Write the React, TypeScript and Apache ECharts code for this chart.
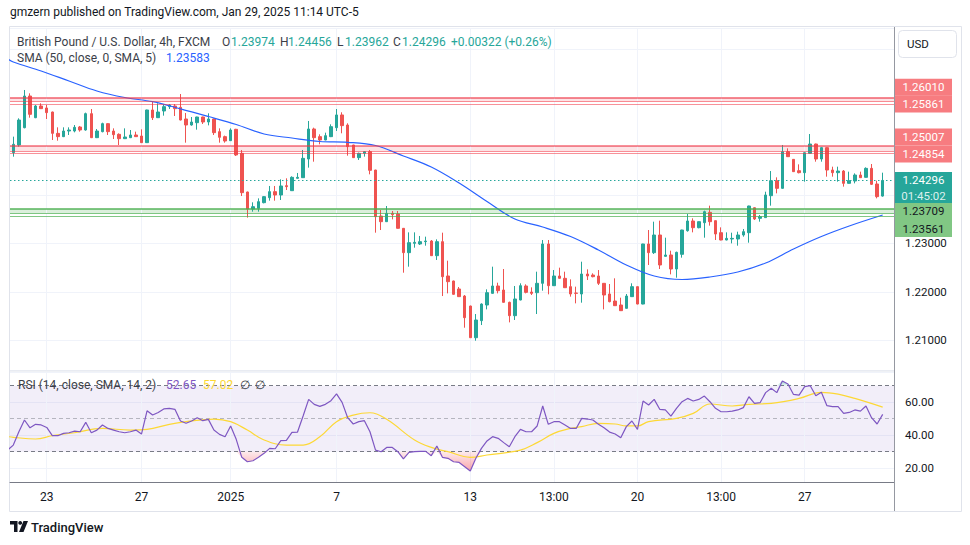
import { useEffect, useRef } from 'react';
import * as echarts from 'echarts';

// ---- candles (GBP/USD 4h) ----
const openP = [
  1.24869, 1.25027, 1.25384, 1.26037, 1.25590, 1.25831, 1.25790, 1.25707, 1.25267, 1.25199,
  1.25315, 1.25315, 1.25398, 1.25336, 1.25673, 1.25178, 1.25302, 1.25467, 1.25315, 1.25247,
  1.25157, 1.25178, 1.25233, 1.25212, 1.25075, 1.25749, 1.25590, 1.25728, 1.25817, 1.25831,
  1.25804, 1.25563, 1.25439, 1.25487, 1.25604, 1.25501, 1.25563, 1.25302, 1.25199, 1.25116,
  1.25350, 1.24855, 1.24058, 1.23707, 1.23721, 1.23838, 1.23941, 1.24065, 1.23996, 1.24188,
  1.24085, 1.24340, 1.24353, 1.24738, 1.25357, 1.25199, 1.25130, 1.25199, 1.25384, 1.25646,
  1.25439, 1.25027, 1.24766, 1.24855, 1.24890, 1.24511, 1.23563, 1.23446, 1.23618, 1.23604,
  1.23309, 1.22807, 1.22999, 1.22986, 1.23034, 1.23047, 1.22745, 1.23034, 1.22326, 1.22223,
  1.22058, 1.21913, 1.21707, 1.21054, 1.21405, 1.21728, 1.21968, 1.22120, 1.22037, 1.21783,
  1.21508, 1.21831, 1.22120, 1.21996, 1.21982, 1.22175, 1.22986, 1.22126, 1.22326, 1.22278,
  1.22106, 1.21975, 1.21955, 1.22367, 1.22346, 1.22326, 1.22175, 1.21955, 1.21810, 1.21728,
  1.21659, 1.21900, 1.22106, 1.21748, 1.22986, 1.22807, 1.23171, 1.22731, 1.22759, 1.22470,
  1.22773, 1.23260, 1.23460, 1.23322, 1.23425, 1.23638, 1.23467, 1.23219, 1.23068, 1.23089,
  1.23089, 1.23171, 1.23219, 1.23734, 1.23515, 1.23529, 1.23982, 1.24291, 1.24133, 1.24889,
  1.24731, 1.24497, 1.24456, 1.24855, 1.25047, 1.24738, 1.24972, 1.24511, 1.24456, 1.24490,
  1.24236, 1.24284, 1.24408, 1.24360, 1.24545, 1.24223, 1.23974,
];
const highP = [
  1.25199, 1.25577, 1.26161, 1.26092, 1.25852, 1.25886, 1.25852, 1.25714, 1.25391, 1.25391,
  1.25391, 1.25439, 1.25419, 1.25694, 1.25769, 1.25357, 1.25487, 1.25475, 1.25370, 1.25267,
  1.25370, 1.25336, 1.25302, 1.25350, 1.25755, 1.25920, 1.25886, 1.25865, 1.25872, 1.25872,
  1.26078, 1.25687, 1.25604, 1.25610, 1.25610, 1.25680, 1.25570, 1.25370, 1.25220, 1.25370,
  1.25360, 1.24924, 1.24065, 1.23845, 1.23927, 1.23975, 1.24182, 1.24182, 1.24319, 1.24340,
  1.24381, 1.24450, 1.24924, 1.25522, 1.25384, 1.25247, 1.25281, 1.25453, 1.25769, 1.25701,
  1.25474, 1.25030, 1.24869, 1.24903, 1.24924, 1.24515, 1.23687, 1.23769, 1.23666, 1.23666,
  1.23315, 1.23226, 1.23226, 1.23151, 1.23137, 1.23068, 1.23082, 1.23219, 1.22642, 1.22230,
  1.22099, 1.21934, 1.21715, 1.21542, 1.21762, 1.22051, 1.22518, 1.22188, 1.22470, 1.21797,
  1.22120, 1.22175, 1.22154, 1.22092, 1.22415, 1.23068, 1.23068, 1.22449, 1.22498, 1.22415,
  1.22257, 1.22106, 1.22621, 1.22463, 1.22381, 1.22449, 1.22180, 1.22161, 1.22278, 1.21879,
  1.21955, 1.22175, 1.22110, 1.22990, 1.23274, 1.23446, 1.23467, 1.23116, 1.22848, 1.22828,
  1.23280, 1.23604, 1.23515, 1.23450, 1.23673, 1.23776, 1.23470, 1.23329, 1.23226, 1.23219,
  1.23240, 1.23295, 1.23775, 1.23740, 1.23583, 1.24064, 1.24490, 1.24360, 1.25027, 1.24958,
  1.24735, 1.24628, 1.24875, 1.25253, 1.25055, 1.24980, 1.24980, 1.24580, 1.24580, 1.24511,
  1.24477, 1.24442, 1.24477, 1.24566, 1.24635, 1.24291, 1.24456,
];
const lowP = [
  1.24786, 1.24993, 1.25370, 1.25590, 1.25580, 1.25770, 1.25563, 1.25130, 1.25116, 1.25190,
  1.25233, 1.25288, 1.25302, 1.25322, 1.25170, 1.25170, 1.25288, 1.25233, 1.25150, 1.25027,
  1.25150, 1.25170, 1.25192, 1.25068, 1.25068, 1.25542, 1.25583, 1.25632, 1.25769, 1.25625,
  1.25535, 1.25075, 1.25425, 1.25343, 1.25460, 1.25432, 1.25233, 1.25075, 1.25075, 1.25110,
  1.24800, 1.23975, 1.23529, 1.23652, 1.23652, 1.23824, 1.23879, 1.23879, 1.23893, 1.24099,
  1.24080, 1.24335, 1.24350, 1.24560, 1.24683, 1.25041, 1.25125, 1.25190, 1.25316, 1.25268,
  1.24807, 1.24760, 1.24718, 1.24787, 1.24422, 1.23219, 1.23274, 1.23440, 1.23494, 1.23305,
  1.22394, 1.22518, 1.22910, 1.22965, 1.22951, 1.22740, 1.22656, 1.21913, 1.21968, 1.21940,
  1.21895, 1.21260, 1.21050, 1.20992, 1.21315, 1.21638, 1.21962, 1.21968, 1.21778, 1.21370,
  1.21419, 1.21825, 1.21968, 1.21934, 1.21542, 1.22023, 1.21948, 1.22120, 1.22272, 1.22080,
  1.21900, 1.21762, 1.21776, 1.22243, 1.22298, 1.22140, 1.21638, 1.21783, 1.21710, 1.21605,
  1.21655, 1.21895, 1.21742, 1.21742, 1.22553, 1.22780, 1.22470, 1.22724, 1.22360, 1.22291,
  1.22704, 1.23240, 1.23226, 1.23309, 1.23116, 1.23364, 1.23068, 1.23062, 1.23062, 1.22999,
  1.22951, 1.23137, 1.23013, 1.23480, 1.23446, 1.23522, 1.23776, 1.24030, 1.24128, 1.24780,
  1.24470, 1.24442, 1.24271, 1.24850, 1.24683, 1.24683, 1.24374, 1.24374, 1.24271, 1.24168,
  1.24230, 1.24236, 1.24350, 1.24355, 1.24202, 1.23927, 1.23962,
];
const closeP = [
  1.25041, 1.25542, 1.26037, 1.25659, 1.25831, 1.25776, 1.25694, 1.25267, 1.25199, 1.25315,
  1.25336, 1.25391, 1.25336, 1.25673, 1.25178, 1.25315, 1.25467, 1.25302, 1.25240, 1.25157,
  1.25192, 1.25233, 1.25199, 1.25075, 1.25749, 1.25590, 1.25707, 1.25817, 1.25852, 1.25776,
  1.25542, 1.25439, 1.25501, 1.25604, 1.25501, 1.25563, 1.25281, 1.25185, 1.25109, 1.25336,
  1.24821, 1.24044, 1.23707, 1.23755, 1.23859, 1.23962, 1.24065, 1.23996, 1.24182, 1.24168,
  1.24360, 1.24360, 1.24752, 1.25357, 1.25178, 1.25130, 1.25219, 1.25405, 1.25646, 1.25426,
  1.24993, 1.24766, 1.24855, 1.24890, 1.24505, 1.23549, 1.23446, 1.23618, 1.23591, 1.23309,
  1.22807, 1.23013, 1.23020, 1.23034, 1.23047, 1.22745, 1.23034, 1.22312, 1.22209, 1.21948,
  1.21900, 1.21467, 1.21054, 1.21419, 1.21748, 1.21982, 1.22120, 1.22023, 1.21783, 1.21508,
  1.21852, 1.22126, 1.21989, 1.21968, 1.22175, 1.22986, 1.22126, 1.22326, 1.22278, 1.22085,
  1.21955, 1.21968, 1.22367, 1.22326, 1.22312, 1.22175, 1.21934, 1.21797, 1.21714, 1.21611,
  1.21913, 1.22106, 1.21748, 1.22986, 1.22807, 1.23171, 1.22553, 1.22759, 1.22470, 1.22814,
  1.23274, 1.23460, 1.23322, 1.23446, 1.23652, 1.23446, 1.23192, 1.23068, 1.23102, 1.23102,
  1.23171, 1.23240, 1.23769, 1.23501, 1.23549, 1.23996, 1.24291, 1.24133, 1.24889, 1.24786,
  1.24477, 1.24456, 1.24868, 1.25047, 1.24738, 1.24972, 1.24511, 1.24456, 1.24490, 1.24236,
  1.24291, 1.24408, 1.24353, 1.24545, 1.24216, 1.23962, 1.24296,
];

const smaIdx = [-1, 0, 5, 10, 15, 20, 25, 30, 35, 40, 45, 50, 55, 60, 65, 70, 75, 80, 85, 90, 95, 100, 105, 110, 115, 120, 125, 130, 135, 140, 145, 150, 156];
const smaVal = [1.26800, 1.26738, 1.26553, 1.26346, 1.26140, 1.26006, 1.25920, 1.25773, 1.25614, 1.25449, 1.25254, 1.25171, 1.25099, 1.25082, 1.25016, 1.24800, 1.24573, 1.24243, 1.23862, 1.23501, 1.23336, 1.23140, 1.22862, 1.22553, 1.22326, 1.22254, 1.22305, 1.22408, 1.22594, 1.22882, 1.23140, 1.23357, 1.23583];

// ---- RSI(14), first value belongs to bar -1 (just off the left edge) ----
const rsiVal = [
  31.0,
  34.0, 42.1, 49.2, 44.5, 46.6, 46.2, 44.7, 39.7, 39.7, 41.1,
  41.5, 42.5, 42.1, 47.8, 41.5, 43.1, 46.2, 44.1, 43.1, 42.1,
  41.5, 42.1, 43.1, 40.7, 54.8, 52.2, 53.8, 55.9, 56.3, 55.7,
  48.6, 47.2, 48.6, 50.6, 48.8, 49.6, 43.1, 40.5, 39.1, 45.6,
  37.5, 26.6, 23.9, 24.5, 26.6, 29.0, 32.0, 31.8, 36.7, 36.9,
  41.7, 41.9, 51.6, 61.7, 58.7, 57.5, 58.7, 60.9, 65.0, 59.9,
  50.6, 46.8, 48.2, 48.8, 42.1, 31.0, 30.0, 32.6, 32.6, 30.0,
  25.6, 29.6, 30.0, 30.2, 30.2, 27.6, 33.4, 26.6, 26.0, 23.9,
  23.5, 20.9, 18.3, 26.0, 32.0, 36.5, 39.1, 38.1, 35.5, 33.0,
  39.1, 43.5, 42.1, 42.1, 45.6, 57.7, 46.6, 48.2, 48.2, 46.2,
  44.1, 44.1, 50.2, 49.8, 49.2, 46.6, 44.5, 41.9, 40.7, 38.5,
  45.2, 48.6, 43.5, 60.7, 58.3, 61.7, 55.7, 55.3, 51.6, 56.3,
  60.3, 62.3, 60.7, 61.7, 63.7, 60.3, 56.3, 54.2, 54.2, 54.6,
  55.3, 56.7, 63.3, 59.3, 59.7, 65.8, 68.4, 65.8, 72.8, 71.0,
  64.7, 64.3, 69.4, 70.0, 63.9, 66.0, 57.9, 57.3, 57.3, 53.2,
  53.8, 55.3, 54.6, 57.7, 50.6, 46.8, 52.65,
];
// ---- RSI-based SMA(14) read at sampled bars ----
const rsiMaIdx = [-1, 0, 4, 7, 11, 16, 21, 24, 28, 31, 36, 39, 42, 45, 49, 52, 55, 58, 61, 64, 67, 72, 75, 78, 82, 85, 91, 94, 97, 100, 102, 105, 108, 110, 112, 114, 119, 122, 125, 129, 132, 136, 141, 145, 148, 151, 156];
const rsiMaVal = [39.2, 38.7, 37.7, 39.7, 41.5, 44.1, 43.1, 43.5, 46.6, 48.2, 49.8, 48.2, 43.1, 37.1, 34.0, 34.0, 39.0, 48.2, 52.2, 53.6, 49.6, 37.1, 32.6, 30.0, 26.6, 28.0, 31.0, 35.5, 41.1, 44.1, 45.2, 47.2, 46.8, 45.6, 45.6, 48.2, 50.2, 53.2, 58.9, 57.7, 58.7, 59.3, 62.3, 66.0, 64.9, 62.3, 57.02];

// ---- time axis ----
const tickIdx = [6, 23, 39, 58, 82, 97, 112, 127, 142];
const tickText = ['23', '27', '2025', '7', '13', '13:00', '20', '13:00', '27'];

// ---- drawn zones / levels ----
const redZones = [
  [1.26010, 1.25924, 1.25861],
  [1.25007, 1.24897, 1.24854],
];
const greenZone = [1.23709, 1.23619, 1.23561];
const lastClose = 1.24296;
const changeText = '+0.00322 (+0.26%)';
const smaLast = 1.23583;
const rsiLast = 52.65;
const rsiMaLast = 57.02;
const countdown = '01:45:02';

const UP = '#26A69A';
const DOWN = '#EF5350';
const FONT = 'Roboto, "Noto Sans", Arial, sans-serif';

export default function App() {
  const ref = useRef<HTMLDivElement>(null);

  useEffect(() => {
    const el = ref.current!;
    const chart = echarts.init(el, undefined, { renderer: 'svg' });
    const xMin = -0.592;
    const xMax = 158.03;

    const rsiPts = rsiVal.map((v, k) => [k - 1, v]);

    const fillSeries = (level: number, below: boolean, stops: any[]) => ({
      type: 'custom', xAxisIndex: 1, yAxisIndex: 1, silent: true, z: 2, clip: true,
      data: [[0, level]],
      renderItem: (_p: any, api: any) => {
        const edge = rsiPts.map(([x, v]) => api.coord([x, below ? Math.min(v, level) : Math.max(v, level)]));
        const base = rsiPts.slice().reverse().map(([x]) => api.coord([x, level]));
        return {
          type: 'polygon',
          shape: { points: [...edge, ...base] },
          style: { fill: new echarts.graphic.LinearGradient(0, 0, 0, 1, stops), stroke: 'none' },
        };
      },
    });

    const redLine = 'rgba(242,54,69,0.55)';
    const greenLine = 'rgba(76,175,80,0.7)';

    const option: any = {
      animation: false,
      backgroundColor: '#ffffff',
      textStyle: { fontFamily: FONT },
      grid: [
        { left: 10, top: 28, width: 884, height: 342, outerBoundsMode: 'none', containLabel: false },
        { left: 10, top: 372, width: 884, height: 110, outerBoundsMode: 'none', containLabel: false },
      ],
      xAxis: [
        { type: 'value', gridIndex: 0, min: xMin, max: xMax, show: false, splitLine: { show: false } },
        {
          type: 'value', gridIndex: 1, min: xMin, max: xMax,
          axisLine: { show: true, lineStyle: { color: '#787B86', width: 1 } },
          axisTick: { show: false },
          splitLine: { show: false },
          axisLabel: {
            customValues: tickIdx,
            margin: 9,
            color: '#131722',
            fontSize: 12,
            fontFamily: FONT,
            formatter: (v: number) => {
              const k = tickIdx.indexOf(Math.round(v));
              return k >= 0 && Math.abs(v - Math.round(v)) < 1e-6 ? tickText[k] : '';
            },
          },
        },
      ],
      yAxis: [
        {
          type: 'value', gridIndex: 0, position: 'right', min: 1.20388, max: 1.27439, splitNumber: 7,
          axisLine: { show: false }, axisTick: { show: false },
          splitLine: { show: true, lineStyle: { color: '#F0F3FA', width: 1 } },
          axisLabel: {
            margin: 11, color: '#131722', fontSize: 11.5, fontFamily: FONT,
            showMinLabel: false, showMaxLabel: false,
            formatter: (v: number) => {
              const c = Math.round(v * 100);
              return Math.abs(v * 100 - c) < 1e-6 && v < 1.235 ? v.toFixed(5) : '';
            },
          },
        },
        {
          type: 'value', gridIndex: 1, position: 'right', min: 11.64, max: 78.3, splitNumber: 3,
          axisLine: { show: false }, axisTick: { show: false },
          splitLine: { show: true, lineStyle: { color: '#F0F3FA', width: 1 } },
          axisLabel: {
            margin: 11, color: '#131722', fontSize: 11.5, fontFamily: FONT,
            showMinLabel: false, showMaxLabel: false,
            formatter: (v: number) => {
              const r = Math.round(v);
              return Math.abs(v - r) < 1e-6 && r % 20 === 0 ? v.toFixed(2) : '';
            },
          },
        },
      ],
      series: [
        // vertical grid lines, main pane
        {
          type: 'line', xAxisIndex: 0, yAxisIndex: 0, data: [], silent: true,
          markLine: {
            silent: true, z: 1, precision: 5, symbol: ['none', 'none'], label: { show: false },
            lineStyle: { color: '#F0F3FA', width: 1, type: 'solid' },
            data: tickIdx.map((i) => ({ xAxis: i })),
          },
        },
        // zones
        {
          type: 'line', xAxisIndex: 0, yAxisIndex: 0, data: [], silent: true,
          markArea: {
            silent: true, z: 1,
            data: [
              ...redZones.map((z) => [
                { yAxis: z[0], itemStyle: { color: 'rgba(242,54,69,0.14)' } },
                { yAxis: z[1] },
              ]),
              [
                { yAxis: greenZone[0], itemStyle: { color: 'rgba(76,175,80,0.2)' } },
                { yAxis: greenZone[1] },
              ],
            ],
          },
          markLine: {
            silent: true, z: 5, precision: 5, symbol: ['none', 'none'], label: { show: false },
            data: [
              ...redZones.flatMap((z) => [
                { yAxis: z[0], lineStyle: { color: redLine, width: 2, type: 'solid' } },
                { yAxis: z[1], lineStyle: { color: redLine, width: 1, type: 'solid' } },
                { yAxis: z[2], lineStyle: { color: redLine, width: 1, type: 'solid' } },
              ]),
              { yAxis: greenZone[0], lineStyle: { color: greenLine, width: 2, type: 'solid' } },
              { yAxis: greenZone[1], lineStyle: { color: greenLine, width: 1, type: 'solid' } },
              { yAxis: greenZone[2], lineStyle: { color: greenLine, width: 1, type: 'solid' } },
              { yAxis: lastClose, lineStyle: { color: UP, width: 1, type: [1.5, 2.5] } },
            ],
          },
        },
        // candles
        {
          type: 'candlestick', xAxisIndex: 0, yAxisIndex: 0, z: 3,
          data: openP.map((o, i) => [i, o, closeP[i], lowP[i], highP[i]]),
          barWidth: 3,
          itemStyle: { color: UP, color0: DOWN, borderColor: UP, borderColor0: DOWN, borderWidth: 1 },
          silent: true,
        },
        // SMA 50
        {
          type: 'line', xAxisIndex: 0, yAxisIndex: 0, z: 4, silent: true,
          data: smaIdx.map((x, k) => [x, smaVal[k]]),
          smooth: 0.35, symbol: 'none',
          lineStyle: { color: '#2962FF', width: 1.2 },
        },
        // RSI pane: vertical grid, band, guides
        {
          type: 'line', xAxisIndex: 1, yAxisIndex: 1, data: [], silent: true,
          markArea: {
            silent: true, z: 0,
            data: [[{ yAxis: 70, itemStyle: { color: 'rgba(126,87,194,0.1)' } }, { yAxis: 30 }]],
          },
          markLine: {
            silent: true, z: 1, precision: 3, symbol: ['none', 'none'], label: { show: false },
            data: [
              ...tickIdx.map((i) => ({ xAxis: i, lineStyle: { color: '#F0F3FA', width: 1, type: 'solid' } })),
              { yAxis: 70, lineStyle: { color: '#787B86', width: 1, type: [4, 3] } },
              { yAxis: 50, lineStyle: { color: 'rgba(120,123,134,0.5)', width: 1, type: [4, 3] } },
              { yAxis: 30, lineStyle: { color: '#787B86', width: 1, type: [4, 3] } },
            ],
          },
        },
        // oversold / overbought fills
        fillSeries(30, true, [
          { offset: 0, color: 'rgba(242,54,69,0.1)' },
          { offset: 1, color: 'rgba(242,54,69,0.45)' },
        ]),
        fillSeries(70, false, [
          { offset: 0, color: 'rgba(8,153,129,0.4)' },
          { offset: 1, color: 'rgba(8,153,129,0.08)' },
        ]),
        // RSI MA
        {
          type: 'line', xAxisIndex: 1, yAxisIndex: 1, silent: true, symbol: 'none', z: 3,
          data: rsiMaIdx.map((x, k) => [x, rsiMaVal[k]]), smooth: 0.4,
          lineStyle: { color: '#FDD835', width: 1.2 },
        },
        // RSI
        {
          type: 'line', xAxisIndex: 1, yAxisIndex: 1, silent: true, symbol: 'none', z: 4,
          data: rsiPts, lineStyle: { color: '#7E57C2', width: 1.2 },
        },
      ],
    };

    chart.setOption(option);

    const py = (v: number) => chart.convertToPixel({ yAxisIndex: 0 }, v) as unknown as number;
    const f = (size: number, weight = 'normal') => `${weight} ${size}px ${FONT}`;
    const txt = (x: number, y: number, text: string, fill: string, size = 12, align = 'left', weight = 'normal') => ({
      type: 'text', x, y, silent: true, z: 60,
      style: { text, fill, font: f(size, weight), textAlign: align, textVerticalAlign: 'middle' },
    });

    const boxes = [
      { p: redZones[0][0], shift: -10, bg: '#F77C80', fg: '#ffffff', t: redZones[0][0].toFixed(5) },
      { p: redZones[0][2], shift: -0.5, bg: '#F77C80', fg: '#ffffff', t: redZones[0][2].toFixed(5) },
      { p: redZones[1][0], shift: -9, bg: '#F77C80', fg: '#ffffff', t: redZones[1][0].toFixed(5) },
      { p: redZones[1][2], shift: 0.5, bg: '#F77C80', fg: '#ffffff', t: redZones[1][2].toFixed(5) },
      { p: lastClose, shift: 0, bg: UP, fg: '#ffffff', t: lastClose.toFixed(5) },
      { p: lastClose, shift: 16, bg: UP, fg: 'rgba(255,255,255,0.85)', t: countdown },
      { p: greenZone[0], shift: 2.5, bg: '#81C784', fg: '#131722', t: greenZone[0].toFixed(5) },
      { p: greenZone[2], shift: 12.5, bg: '#81C784', fg: '#131722', t: greenZone[2].toFixed(5) },
    ];
    const boxEls: any[] = [];
    boxes.forEach((b) => {
      const cy = py(b.p) + b.shift;
      boxEls.push({
        type: 'rect', silent: true, z: 55,
        shape: { x: 895, y: cy - 8.5, width: 57, height: 17 },
        style: { fill: b.bg },
      });
      boxEls.push(txt(923.5, cy, b.t, b.fg, 11.5, 'center'));
    });

    const last = openP.length - 1;
    const legendGray = '#3b3e48';
    const graphics: any[] = [
      { type: 'rect', silent: true, z: 0, shape: { x: 9.5, y: 26.5, width: 952, height: 485 }, style: { fill: 'none', stroke: '#E0E3EB', lineWidth: 1 } },
      { type: 'line', silent: true, z: 50, shape: { x1: 10, y1: 371, x2: 894, y2: 371 }, style: { stroke: '#E0E3EB', lineWidth: 1 } },
      { type: 'line', silent: true, z: 50, shape: { x1: 894.5, y1: 27, x2: 894.5, y2: 511 }, style: { stroke: '#9598A1', lineWidth: 1 } },
      txt(10, 12, 'gmzern published on TradingView.com, Jan 29, 2025 11:14 UTC-5', '#131722', 12),
      txt(17, 42, 'British Pound / U.S. Dollar, 4h, FXCM', legendGray),
      txt(222, 42, 'O', legendGray), txt(231, 42, openP[last].toFixed(5), UP),
      txt(280, 42, 'H', legendGray), txt(288, 42, highP[last].toFixed(5), UP),
      txt(337, 42, 'L', legendGray), txt(345, 42, lowP[last].toFixed(5), UP),
      txt(393, 42, 'C', legendGray), txt(402, 42, closeP[last].toFixed(5), UP),
      txt(451, 42, changeText, UP),
      txt(17, 58, 'SMA (50, close, 0, SMA, 5)', legendGray),
      txt(166, 58, smaLast.toFixed(5), '#2962FF'),
      txt(18, 385, 'RSI (14, close, SMA, 14, 2)', legendGray),
      txt(166, 385, rsiLast.toFixed(2), '#7E57C2'),
      txt(203, 385, rsiMaLast.toFixed(2), '#FDD835'),
      txt(240, 385, '∅', legendGray),
      txt(255, 385, '∅', legendGray),
      { type: 'rect', silent: true, z: 55, shape: { x: 898.5, y: 30.5, width: 58, height: 27, r: 4 }, style: { fill: '#ffffff', stroke: '#E0E3EB', lineWidth: 1 } },
      txt(907, 44, 'USD', '#131722', 11.5),
      { type: 'polygon', silent: true, z: 60, shape: { points: [[10, 521], [17.5, 521], [17.5, 532], [14, 532], [14, 524.5], [10, 524.5]] }, style: { fill: '#131722' } },
      { type: 'circle', silent: true, z: 60, shape: { cx: 20.2, cy: 522.9, r: 1.9 }, style: { fill: '#131722' } },
      { type: 'polygon', silent: true, z: 60, shape: { points: [[23.5, 521], [28, 521], [23.5, 532], [19, 532]] }, style: { fill: '#131722' } },
      txt(31, 527, 'TradingView', '#131722', 13, 'left', '500'),
      ...boxEls,
    ];

    chart.setOption({ graphic: graphics });

    return () => chart.dispose();
  }, []);

  return (
    <div
      ref={ref}
      style={{ position: 'fixed', left: 0, top: 0, width: 970, height: 545, background: '#ffffff' }}
    />
  );
}
